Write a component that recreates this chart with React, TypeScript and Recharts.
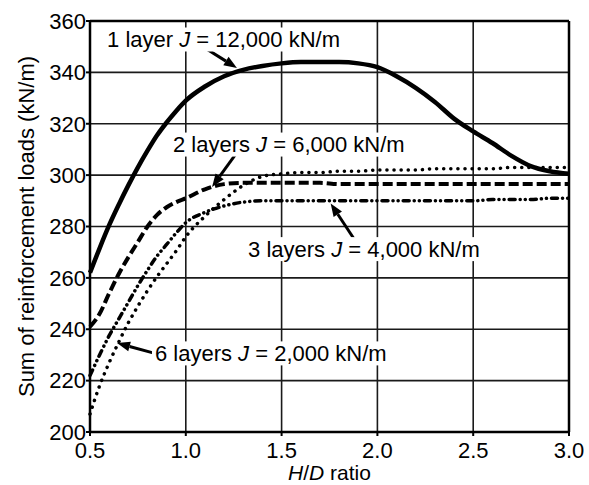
import {
  LineChart,
  Line,
  XAxis,
  YAxis,
  CartesianGrid,
  ReferenceLine,
  ReferenceDot,
  Label,
} from "recharts";

// H/D ratio values where the curves were read
const hdRatio = [
  0.5, 0.55, 0.6, 0.65, 0.7, 0.75, 0.8, 0.85, 0.9, 0.95, 1.0, 1.1, 1.2, 1.3,
  1.4, 1.5, 1.6, 1.7, 1.8, 1.9, 2.0, 2.1, 2.2, 2.3, 2.4, 2.5, 2.6, 2.7, 2.8,
  2.9, 3.0,
];

// Sum of reinforcement loads (kN/m)
const oneLayer = [
  262, 271.5, 280.5, 288.5, 296, 303, 309.5, 315.5, 320.5, 325, 329, 334.5,
  338.5, 341, 342.5, 343.5, 344, 344, 344, 343.5, 342, 338.5, 334, 328.5, 322,
  317, 312.5, 307.5, 303.5, 301.5, 300.5,
];
const twoLayers = [
  241, 246, 254, 261.5, 268, 274, 280, 284.5, 287.5, 289.5, 291, 294.5, 296.5,
  297, 297, 297, 297, 297, 296.5, 296.5, 296.5, 296.5, 296.5, 296.5, 296.5,
  296.5, 296.5, 296.5, 296.5, 296.5, 296.5,
];
const threeLayers = [
  222, 230, 237.5, 244, 250.5, 257, 263, 268.5, 273, 277.5, 281.5, 285.5, 288,
  289.5, 290, 290, 290, 290, 290, 290, 290, 290, 290, 290, 290, 290, 290.5,
  290.5, 290.5, 291, 291,
];
const sixLayers = [
  207, 218, 227, 235, 242.5, 249, 255, 260.5, 265.5, 270.5, 276, 284, 290.5,
  296, 299.5, 300.5, 301, 301, 301.5, 301.5, 302, 302, 302, 302.5, 302.5,
  302.5, 302.5, 303, 303, 303, 303,
];

const xTicks = [0.5, 1.0, 1.5, 2.0, 2.5, 3.0];
const yTicks = [200, 220, 240, 260, 280, 300, 320, 340, 360];

// curve labels: left edge and middle of the text, in data units
const noteCount = ["1 layer", "2 layers", "3 layers", "6 layers"];
const noteStiffness = ["12,000", "6,000", "4,000", "2,000"];
const noteX = [0.589, 0.933, 1.325, 0.839];
const noteY = [352.8, 311.9, 271.2, 230.6];

// arrows: tail -> head
const arrowFromX = [1.1, 1.257, 1.899, 0.829];
const arrowFromY = [349.5, 307.8, 272.8, 230.8];
const arrowToX = [1.267, 1.137, 1.756, 0.641];
const arrowToY = [341.7, 295.4, 289.0, 234.6];

const chartData = hdRatio.map((hd, i) => ({
  hd,
  one: oneLayer[i],
  two: twoLayers[i],
  three: threeLayers[i],
  six: sixLayers[i],
}));

const FONT = '"Liberation Sans", Arial, Helvetica, sans-serif';

function Arrow(props: any) {
  const { x1, y1, x2, y2 } = props;
  const ang = Math.atan2(y2 - y1, x2 - x1);
  const len = 13;
  const half = 5;
  const bx = x2 - len * Math.cos(ang);
  const by = y2 - len * Math.sin(ang);
  const px = -Math.sin(ang) * half;
  const py = Math.cos(ang) * half;
  return (
    <g>
      <line x1={x1} y1={y1} x2={bx} y2={by} stroke="#000" strokeWidth={3} />
      <polygon
        points={`${x2},${y2} ${bx + px},${by + py} ${bx - px},${by - py}`}
        fill="#000"
      />
    </g>
  );
}

function makeNote(i: number) {
  return (props: any) => {
    const { cx, cy } = props;
    return (
      <g>
        <rect x={cx - 3} y={cy - 12} width={246} height={24} fill="#fff" />
        <text
          x={cx}
          y={cy}
          dy="0.36em"
          fontSize={22}
          fontFamily={FONT}
          fill="#000"
        >
          {noteCount[i] + " "}
          <tspan fontStyle="italic">J</tspan>
          {" = " + noteStiffness[i] + " kN/m"}
        </text>
      </g>
    );
  };
}

function XTitle(props: any) {
  const { viewBox } = props;
  const cx = viewBox.x + viewBox.width / 2;
  return (
    <text
      x={cx}
      y={viewBox.y + 48}
      textAnchor="middle"
      fontSize={21}
      fontFamily={FONT}
      fill="#000"
    >
      <tspan fontStyle="italic">H</tspan>
      <tspan>/</tspan>
      <tspan fontStyle="italic">D</tspan>
      <tspan> ratio</tspan>
    </text>
  );
}

export default function App() {
  return (
    <div style={{ width: 589, height: 485, background: "#fff" }}>
      <style>{"body{margin:0}"}</style>
      <LineChart
        width={589}
        height={485}
        data={chartData}
        margin={{ top: 21, right: 20, left: 0, bottom: 0 }}
        style={{ fontFamily: FONT }}
      >
        <CartesianGrid stroke="#1a1a1a" strokeWidth={1.6} />
        <XAxis
          dataKey="hd"
          type="number"
          domain={[0.5, 3]}
          ticks={xTicks}
          tickFormatter={(v) => Number(v).toFixed(1)}
          height={53}
          tickSize={4}
          tickMargin={6}
          tick={{ fill: "#000", fontSize: 22 }}
          axisLine={{ stroke: "#000", strokeWidth: 2.5 }}
          tickLine={{ stroke: "#000", strokeWidth: 2 }}
        >
          <Label content={XTitle} />
        </XAxis>
        <YAxis
          type="number"
          domain={[200, 360]}
          ticks={yTicks}
          width={90}
          tickSize={4}
          tickMargin={0}
          tick={{ fill: "#000", fontSize: 22 }}
          axisLine={{ stroke: "#000", strokeWidth: 2.5 }}
          tickLine={{ stroke: "#000", strokeWidth: 2 }}
          label={{
            value: "Sum of reinforcement loads (kN/m)",
            angle: -90,
            position: "insideLeft",
            offset: 26,
            style: { textAnchor: "middle", fontSize: 22, fill: "#000" },
          }}
        />
        <ReferenceLine x={3} stroke="#000" strokeWidth={2.5} />
        <ReferenceLine y={360} stroke="#000" strokeWidth={2.5} />

        {noteX.map((x, i) => (
          <ReferenceDot
            key={"n" + i}
            x={x}
            y={noteY[i]}
            r={0}
            ifOverflow="visible"
            shape={makeNote(i)}
          />
        ))}

        <Line
          dataKey="one"
          type="monotone"
          stroke="#000"
          strokeWidth={4.5}
          dot={false}
          isAnimationActive={false}
        />
        <Line
          dataKey="two"
          type="monotone"
          stroke="#000"
          strokeWidth={4}
          strokeDasharray="10 4"
          dot={false}
          isAnimationActive={false}
        />
        <Line
          dataKey="three"
          type="monotone"
          stroke="#000"
          strokeWidth={3.5}
          strokeLinecap="round"
          strokeDasharray="6 5 0.1 5 0.1 5"
          dot={false}
          isAnimationActive={false}
        />
        <Line
          dataKey="six"
          type="monotone"
          stroke="#000"
          strokeWidth={3.5}
          strokeLinecap="round"
          strokeDasharray="0.1 7"
          dot={false}
          isAnimationActive={false}
        />

        {arrowFromX.map((x, i) => (
          <ReferenceLine
            key={"a" + i}
            segment={[
              { x, y: arrowFromY[i] },
              { x: arrowToX[i], y: arrowToY[i] },
            ]}
            ifOverflow="visible"
            shape={Arrow}
          />
        ))}
      </LineChart>
    </div>
  );
}
